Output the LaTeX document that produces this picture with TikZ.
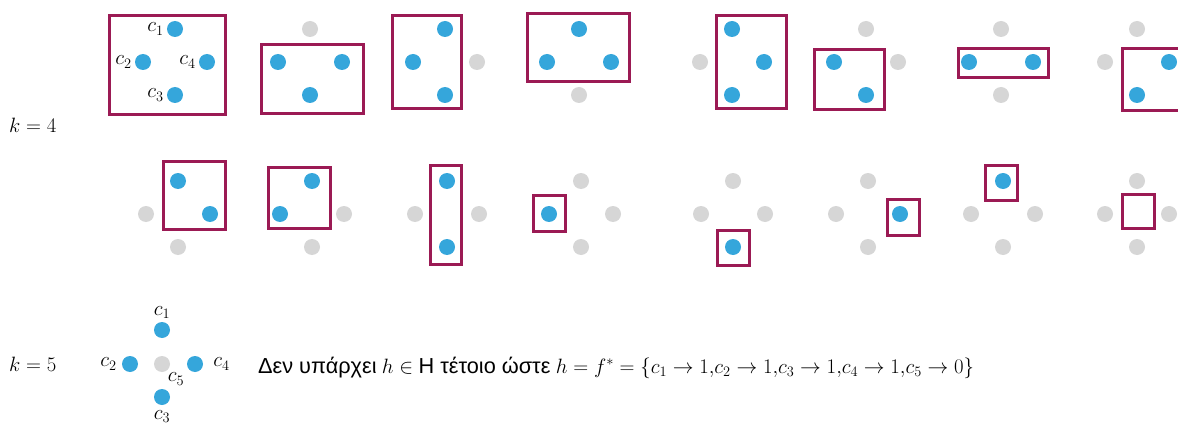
\documentclass[tikz,border=0pt]{standalone}
\usepackage{fontspec}
\setmainfont{Liberation Serif}
\newfontfamily\greeksans{Liberation Sans}
\usetikzlibrary{positioning}

\definecolor{ptblue}{RGB}{53,166,219}
\definecolor{ptgray}{RGB}{214,214,214}
\definecolor{boxred}{RGB}{155,26,84}

\begin{document}
\begin{tikzpicture}[
    x=1pt, y=-1pt,
    chosen/.style={circle, fill=ptblue, inner sep=0pt, minimum size=16pt},
    dropped/.style={circle, fill=ptgray, inner sep=0pt, minimum size=16pt},
    hbox/.style={draw=boxred, line width=3pt},
    lbl/.style={font=\fontsize{21}{24}\selectfont, inner sep=0pt},
    klbl/.style={font=\fontsize{22}{24}\selectfont, inner sep=0pt},
    txt/.style={font=\fontsize{21.7}{24}\selectfont, inner sep=0pt}
]
    % canvas (1178 x 425 px)
    \clip (0,0) rectangle (1178,425);

    % Four points per dichotomy: c1 top, c2 left, c3 bottom, c4 right
    \foreach \n/\cx/\cy/\pa/\pb/\pc/\pd in {
        a/175/62/chosen/chosen/chosen/chosen,
        b/310/62/dropped/chosen/chosen/chosen,
        c/445/62/chosen/chosen/chosen/dropped,
        d/579/62/chosen/chosen/dropped/chosen,
        e/732/62/chosen/dropped/chosen/chosen,
        f/866/62/dropped/chosen/chosen/dropped,
        g/1001/62/dropped/chosen/dropped/chosen,
        h/1137/62/dropped/dropped/chosen/chosen,
        i/178/214/chosen/dropped/dropped/chosen,
        j/312/214/chosen/chosen/dropped/dropped,
        k/447/214/chosen/dropped/chosen/dropped,
        l/581/214/dropped/chosen/dropped/dropped,
        m/733/214/dropped/dropped/chosen/dropped,
        n/868/214/dropped/dropped/dropped/chosen,
        o/1003/214/chosen/dropped/dropped/dropped,
        p/1137/214/dropped/dropped/dropped/dropped} {
        \begin{scope}[shift={(\cx,\cy)}]
            \node[\pa] (\n1) at (0,-33) {};
            \node[\pb] (\n2) at (-32,0) {};
            \node[\pc] (\n3) at (0,33) {};
            \node[\pd] (\n4) at (32,0) {};
        \end{scope}
    }

    % point names on the first dichotomy
    \node[lbl, left=3pt of a1] (la1) {$c_1$};
    \node[lbl, left=3pt of a2] (la2) {$c_2$};
    \node[lbl, left=3pt of a3] (la3) {$c_3$};
    \node[lbl, left=3pt of a4] (la4) {$c_4$};

    % rectangles h (first row)
    \draw[hbox] (109.5,15.5) rectangle (225.5,114.5);
    \draw[hbox] (261.5,44.5) rectangle (363.5,113.5);
    \draw[hbox] (392.5,15.5) rectangle (461.5,108.5);
    \draw[hbox] (527.5,13.5) rectangle (629.5,81.5);
    \draw[hbox] (716.5,15.5) rectangle (786.5,108.5);
    \draw[hbox] (814.5,49.5) rectangle (884.5,109.5);
    \draw[hbox] (958.5,48.5) rectangle (1048.5,77.5);
    \draw[hbox] (1122.5,48.5) rectangle (1200,110.5);
    % rectangles h (second row)
    \draw[hbox] (163.5,161.5) rectangle (225.5,229.5);
    \draw[hbox] (268.5,167.5) rectangle (330.5,228.5);
    \draw[hbox] (430.5,165.5) rectangle (461.5,264.5);
    \draw[hbox] (533.5,195.5) rectangle (565.5,231.5);
    \draw[hbox] (717.5,230.5) rectangle (749.5,265.5);
    \draw[hbox] (887.5,199.5) rectangle (919.5,235.5);
    \draw[hbox] (985.5,165.5) rectangle (1017.5,200.5);
    \draw[hbox] (1122.5,194.5) rectangle (1154.5,228.5);

    \node[klbl, anchor=base west] (k4) at (9,133) {$k=4$};

    % k = 5: five points, c5 in the middle
    \node[chosen] (q1) at (162,330) {};
    \node[chosen] (q2) at (130,364) {};
    \node[chosen] (q3) at (162,397) {};
    \node[chosen] (q4) at (195,364) {};
    \node[dropped] (q5) at (162,364) {};
    \node[lbl, above=3pt of q1] (lq1) {$c_1$};
    \node[lbl, left=5pt of q2] (lq2) {$c_2$};
    \node[lbl, below=5pt of q3] (lq3) {$c_3$};
    \node[lbl, right=10pt of q4] (lq4) {$c_4$};
    \node[lbl] (lq5) at (176,379) {$c_5$};

    \node[klbl, anchor=base west] (k5) at (9,371) {$k=5$};
    \node[txt, anchor=base west] (claim) at (258,373)
        {{\greeksans Δεν υπάρχει} $h \in$ {\greeksans Η τέτοιο ώστε} $h = f^{*} = \{c_1 \to 1{,}c_2 \to 1{,}c_3 \to 1{,}c_4 \to 1{,}c_5 \to 0\}$};
\end{tikzpicture}
\end{document}
